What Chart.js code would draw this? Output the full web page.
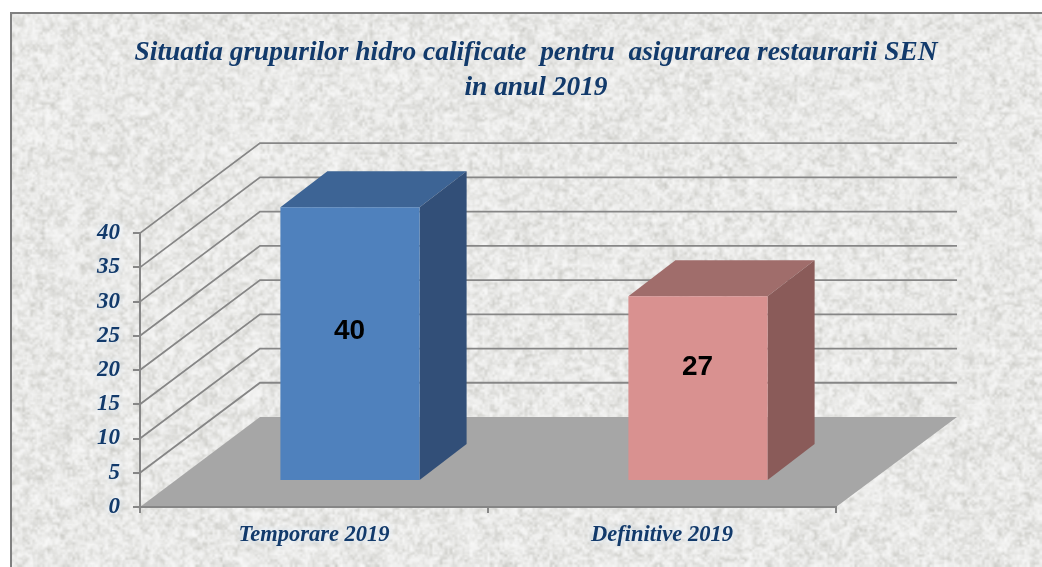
<!DOCTYPE html>
<html>
<head>
<meta charset="utf-8">
<title>Situatia grupurilor hidro calificate</title>
<script src="https://cdn.jsdelivr.net/npm/chart.js@4/dist/chart.umd.min.js"></script>
<style>
  html, body { margin: 0; padding: 0; background: #fff; overflow: hidden; }
  canvas { display: block; }
</style>
</head>
<body>
<canvas id="chart" width="1042" height="567"></canvas>
<script>
// Data
const categories = ['Temporare 2019', 'Definitive 2019'];
const values = [40, 27];
const yTicks = [0, 5, 10, 15, 20, 25, 30, 35, 40];
const titleLines = ['Situatia grupurilor hidro calificate  pentru  asigurarea restaurarii SEN', 'in anul 2019'];

// Colors of each bar's faces
const frontColors = ['#4f81bd', '#d99190'];
const topColors = ['#3d6495', '#a06d6b'];
const sideColors = ['#324f78', '#8a5b59'];

const textBlue = '#123a6b';
const lineGray = '#868686';
const serif = "'Liberation Serif', serif";

// 3D look: the wall goes back by depthX/depthY, bars stand on the floor
const depthX = 120, depthY = 90;
const barShiftX = 36, barShiftY = 26;
const barDepthX = 47, barDepthY = 36;
const labelNudge = [-12, -21];

// Mottled paper background, seeded so each run looks the same
function makeTexture(w, h) {
    let seed = 20190;
    const next = () => (seed = (seed * 16807) % 2147483647) / 2147483647;
    const layer = (scale, amp) => {
        const c = document.createElement('canvas');
        c.width = Math.ceil(w / scale);
        c.height = Math.ceil(h / scale);
        const g = c.getContext('2d');
        const img = g.createImageData(c.width, c.height);
        for (let i = 0; i < img.data.length; i += 4) {
            const v = 128 + (next() - 0.5) * amp;
            img.data[i] = img.data[i + 1] = img.data[i + 2] = v;
            img.data[i + 3] = 255;
        }
        g.putImageData(img, 0, 0);
        return c;
    };
    const out = document.createElement('canvas');
    out.width = w;
    out.height = h;
    const g = out.getContext('2d');
    g.fillStyle = '#e8e8e6';
    g.fillRect(0, 0, w, h);
    g.imageSmoothingEnabled = true;
    g.globalCompositeOperation = 'overlay';
    g.drawImage(layer(5, 130), 0, 0, w, h);
    g.drawImage(layer(2.5, 130), 0, 0, w, h);
    return out;
}

function poly(ctx, pts, fill) {
    ctx.beginPath();
    pts.forEach((p, i) => i ? ctx.lineTo(p[0], p[1]) : ctx.moveTo(p[0], p[1]));
    ctx.closePath();
    ctx.fillStyle = fill;
    ctx.fill();
}

// Pale halo round the axis labels
function addHalo(scale) {
    if (scale._haloDone) return;
    scale._haloDone = true;
    const drawLabels = scale.drawLabels;
    scale.drawLabels = function(area) {
        const ctx = this.ctx;
        ctx.save();
        ctx.shadowColor = 'rgba(225,240,255,0.95)';
        ctx.shadowBlur = 6;
        drawLabels.call(this, area);
        ctx.restore();
    };
}

const scene3d = {
    id: 'scene3d',
    afterLayout(chart) {
        addHalo(chart.scales.x);
        addHalo(chart.scales.y);
    },
    beforeDraw(chart) {
        const { ctx, width, height, scales, chartArea } = chart;
        const left = chartArea.left, right = chartArea.right;

        // page, frame, paper
        ctx.save();
        ctx.fillStyle = '#fff';
        ctx.fillRect(0, 0, width, height);
        ctx.drawImage(makeTexture(width - 10, height - 12), 10, 12);
        ctx.fillStyle = '#808080';
        ctx.fillRect(10, 12, width - 10, 2);
        ctx.fillRect(10, 12, 2, height - 12);

        // floor
        const y0 = scales.y.getPixelForValue(0);
        poly(ctx, [[left, y0], [left + depthX, y0 - depthY], [right + depthX + 1, y0 - depthY], [right, y0]], '#a6a6a6');

        // wall lines running back from the axis, then along the back
        ctx.strokeStyle = lineGray;
        ctx.lineWidth = 1.8;
        yTicks.slice(1).forEach(v => {
            const y = scales.y.getPixelForValue(v);
            ctx.beginPath();
            ctx.moveTo(left, y);
            ctx.lineTo(left + depthX, y - depthY);
            ctx.lineTo(right + depthX + 1, y - depthY);
            ctx.stroke();
        });
        ctx.restore();
    },
    beforeDatasetDraw(chart, args) {
        const { ctx } = chart;
        ctx.save();
        ctx.translate(barShiftX, -barShiftY);
        args.meta.data.forEach((bar, i) => {
            const l = bar.x - bar.width / 2, r = bar.x + bar.width / 2;
            poly(ctx, [[l, bar.y], [l + barDepthX, bar.y - barDepthY], [r + barDepthX, bar.y - barDepthY], [r, bar.y]], topColors[i]);
            poly(ctx, [[r, bar.y], [r + barDepthX, bar.y - barDepthY], [r + barDepthX, bar.base - barDepthY], [r, bar.base]], sideColors[i]);
        });
    },
    afterDatasetDraw(chart) {
        chart.ctx.restore();
    },
    afterDatasetsDraw(chart) {
        const { ctx } = chart;
        const meta = chart.getDatasetMeta(0);
        ctx.save();
        ctx.font = "bold 28px 'Liberation Sans', sans-serif";
        ctx.fillStyle = '#000';
        ctx.textAlign = 'center';
        ctx.textBaseline = 'middle';
        meta.data.forEach((bar, i) => {
            const y = (bar.y + bar.base) / 2 - barShiftY + labelNudge[i];
            ctx.fillText(String(values[i]), bar.x + barShiftX - 0.5, y);
        });
        ctx.restore();
    }
};

new Chart(document.getElementById('chart'), {
    type: 'bar',
    data: {
        labels: categories,
        datasets: [{
            data: values,
            backgroundColor: frontColors,
            barPercentage: 0.4,
            categoryPercentage: 1,
            clip: false
        }]
    },
    plugins: [scene3d],
    options: {
        responsive: false,
        animation: false,
        layout: { padding: { left: 30, right: 0, top: 0, bottom: 0 } },
        plugins: {
            legend: { display: false },
            tooltip: { enabled: false },
            title: {
                display: true,
                text: titleLines,
                color: textBlue,
                font: { family: serif, size: 27.4, style: 'italic', weight: 'bold', lineHeight: 1.28 },
                padding: { top: 35, bottom: 128 }
            }
        },
        scales: {
            x: {
                offset: true,
                border: { color: lineGray, width: 2 },
                grid: { offset: true, drawOnChartArea: false, color: lineGray, lineWidth: 2, tickLength: 6 },
                ticks: {
                    color: textBlue,
                    padding: 9,
                    maxRotation: 0,
                    font: { family: serif, size: 22.5, style: 'italic', weight: 'bold' }
                },
                afterFit(scale) { scale.height = 60; }
            },
            y: {
                min: 0,
                max: 40,
                afterBuildTicks(scale) { scale.ticks = yTicks.map(v => ({ value: v })); },
                border: { color: lineGray, width: 2 },
                grid: { drawOnChartArea: false, color: lineGray, lineWidth: 2, tickLength: 7 },
                ticks: {
                    color: textBlue,
                    padding: 13,
                    font: { family: serif, size: 23, style: 'italic', weight: 'bold' }
                },
                afterFit(scale) { scale.width = 110; }
            },
            // empty axis, only keeps the plot clear of the right side
            spare: {
                position: 'right',
                border: { display: false },
                grid: { display: false },
                ticks: { display: false },
                afterFit(scale) { scale.width = 206; }
            }
        }
    }
});
</script>
</body>
</html>
